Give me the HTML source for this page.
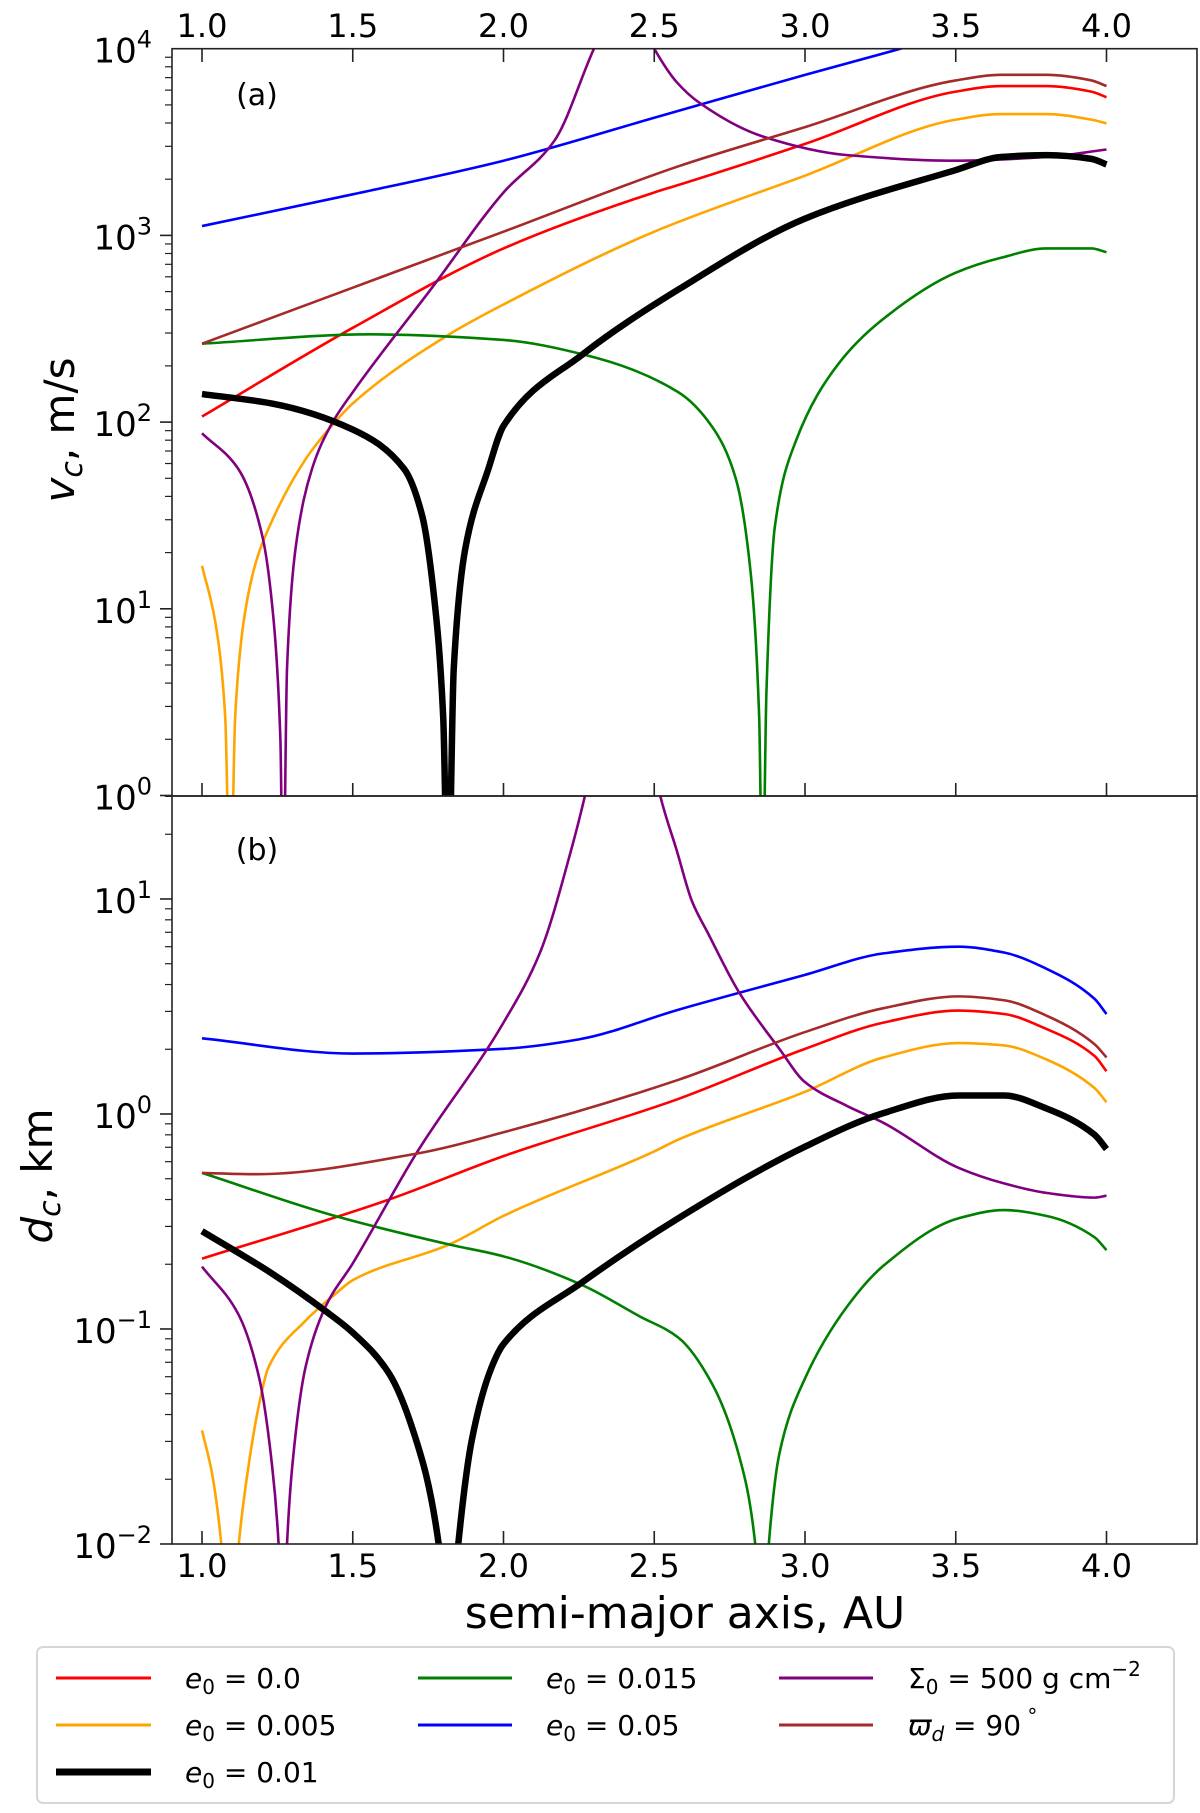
<!DOCTYPE html>
<html><head><meta charset="utf-8">
<style>
html,body{margin:0;padding:0;background:#fff;width:1200px;height:1813px;overflow:hidden;}
svg{display:block;font-family:"DejaVu Sans","Liberation Sans",sans-serif;}
</style></head>
<body>
<svg id="fig" width="1200" height="1813" viewBox="0 0 1200 1813" xmlns="http://www.w3.org/2000/svg" overflow="hidden">
<defs>
<clipPath id="clipTop"><rect x="172" y="48.7" width="1025" height="747"/></clipPath>
<clipPath id="clipBot"><rect x="172" y="796" width="1025" height="748"/></clipPath>
</defs>
<rect x="0" y="0" width="1200" height="1813" fill="#fff"/>
<g id="gTop"></g>
<g id="gBot"></g>
<g id="gAxes"></g>

<text x="257" y="105" font-size="30" text-anchor="middle">(a)</text>
<text x="257" y="860" font-size="30" text-anchor="middle">(b)</text>

<text x="685" y="1628" font-size="44" text-anchor="middle">semi-major axis, AU</text>
<text transform="translate(74,430) rotate(-90)" font-size="42" text-anchor="middle"><tspan font-style="italic">v</tspan><tspan font-style="italic" font-size="30" dy="8">c</tspan><tspan dy="-8">, m/s</tspan></text>
<text transform="translate(52,1176) rotate(-90)" font-size="42" text-anchor="middle"><tspan font-style="italic">d</tspan><tspan font-style="italic" font-size="30" dy="8">c</tspan><tspan dy="-8">, km</tspan></text>

<g>
<rect x="37" y="1647" width="1137" height="156" rx="6" fill="#fff" stroke="#d6d6d6" stroke-width="2"/>
<g><line x1="56" y1="1678" x2="151" y2="1678" stroke="#ff0000" stroke-width="3"/><text x="185" y="1688" font-size="28"><tspan font-style="italic">e</tspan><tspan font-size="20" dy="6">0</tspan><tspan dy="-6"> = 0.0</tspan></text></g>
<g><line x1="56" y1="1725" x2="151" y2="1725" stroke="#ffa500" stroke-width="3"/><text x="185" y="1735" font-size="28"><tspan font-style="italic">e</tspan><tspan font-size="20" dy="6">0</tspan><tspan dy="-6"> = 0.005</tspan></text></g>
<g><line x1="56" y1="1772" x2="151" y2="1772" stroke="#000" stroke-width="7"/><text x="185" y="1782" font-size="28"><tspan font-style="italic">e</tspan><tspan font-size="20" dy="6">0</tspan><tspan dy="-6"> = 0.01</tspan></text></g>
<g><line x1="418" y1="1678" x2="512" y2="1678" stroke="#008000" stroke-width="3"/><text x="546" y="1688" font-size="28"><tspan font-style="italic">e</tspan><tspan font-size="20" dy="6">0</tspan><tspan dy="-6"> = 0.015</tspan></text></g>
<g><line x1="418" y1="1725" x2="512" y2="1725" stroke="#0000ff" stroke-width="3"/><text x="546" y="1735" font-size="28"><tspan font-style="italic">e</tspan><tspan font-size="20" dy="6">0</tspan><tspan dy="-6"> = 0.05</tspan></text></g>
<g><line x1="779" y1="1678" x2="873" y2="1678" stroke="#800080" stroke-width="3"/><text x="908" y="1688" font-size="28">Σ<tspan font-size="20" dy="6">0</tspan><tspan dy="-6"> = 500 g cm</tspan><tspan font-size="20" dy="-12">−2</tspan></text></g>
<g><line x1="779" y1="1725" x2="873" y2="1725" stroke="#a52a2a" stroke-width="3"/><text x="908" y="1735" font-size="28"><tspan font-style="italic">ϖ</tspan><tspan font-style="italic" font-size="20" dy="6">d</tspan><tspan dy="-6"> = 90</tspan><tspan font-size="20" dy="-12"> °</tspan></text></g>
</g>
</svg>
<script>
// Panel (a): log10 v_c [m/s]
const vcRedA = [1,1.5,2,2.5,2.58,3,3.5,3.65,3.8,3.95,4];
const vcRedL = [2.03,2.505,2.93,3.23,3.27,3.49,3.77,3.80,3.80,3.77,3.74];
const vcOrangeA = [1,1.044,1.077,1.094,1.11,1.138,1.177,1.21,1.343,1.43,1.5,1.82,2,2.5,3,3.5,3.65,3.8,3.95,4];
const vcOrangeL = [1.23,0.93,0.42,-0.6,0.42,0.93,1.24,1.39,1.80,1.98,2.10,2.47,2.63,3.02,3.32,3.62,3.65,3.65,3.62,3.60];
const vcBlackA = [1,1.23,1.5,1.67,1.73,1.77,1.80,1.816,1.835,1.873,1.95,2.0,2.26,2.58,3,3.5,3.65,3.8,3.95,4];
const vcBlackL = [2.15,2.10,1.96,1.75,1.50,1.06,0.42,-0.6,0.68,1.32,1.75,1.98,2.36,2.71,3.09,3.35,3.42,3.43,3.41,3.38];
const vcGreenA = [1,1.56,2,2.27,2.58,2.69,2.77,2.82,2.848,2.859,2.872,2.90,2.97,3.11,3.25,3.5,3.65,3.8,3.95,4];
const vcGreenL = [2.42,2.47,2.44,2.36,2.16,1.98,1.70,1.19,0.42,-0.6,0.55,1.44,1.90,2.31,2.54,2.80,2.88,2.93,2.93,2.91];
const vcBlueA = [1,1.5,2,2.5,3,3.5,4];
const vcBlueL = [3.05,3.22,3.40,3.63,3.86,4.08,4.3];
const vcPurpleA = [1,1.12,1.2,1.238,1.26,1.269,1.282,1.31,1.365,1.43,1.5,1.763,2,2.17,2.30,2.36,2.44,2.50,2.575,2.65,2.86,3.14,3.5,3.8,4];
const vcPurpleL = [1.94,1.75,1.39,0.93,0.30,-0.6,0.68,1.32,1.75,1.99,2.16,2.72,3.23,3.51,4.0,4.2,4.2,4.0,3.82,3.71,3.53,3.43,3.40,3.42,3.46];
const vcBrownA = [1,1.5,2,2.58,3,3.5,3.65,3.8,3.95,4];
const vcBrownL = [2.42,2.72,3.02,3.37,3.58,3.83,3.86,3.86,3.83,3.80];
// Panel (b): log10 d_c [km]
const dcRedA = [1,1.61,2,2.58,3,3.26,3.51,3.66,3.8,3.96,4];
const dcRedL = [-0.673,-0.403,-0.196,0.07,0.303,0.425,0.481,0.465,0.396,0.27,0.199];
const dcOrangeA = [1,1.033,1.064,1.093,1.122,1.155,1.188,1.22,1.343,1.44,1.5,1.82,2,2.5,2.58,3,3.26,3.51,3.66,3.8,3.96,4];
const dcOrangeL = [-1.472,-1.67,-2,-2.6,-2,-1.63,-1.36,-1.18,-0.962,-0.84,-0.773,-0.607,-0.474,-0.174,-0.119,0.103,0.263,0.33,0.319,0.254,0.121,0.055];
const dcBlackA = [1,1.23,1.41,1.5,1.62,1.70,1.785,1.817,1.85,1.895,1.96,2.0,2.26,2.58,3,3.26,3.51,3.66,3.8,3.96,4];
const dcBlackL = [-0.545,-0.74,-0.917,-1.017,-1.206,-1.472,-2,-2.6,-2,-1.516,-1.18,-1.07,-0.784,-0.485,-0.152,0.004,0.086,0.086,0.026,-0.096,-0.163];
const dcGreenA = [1,1.44,1.82,2,2.26,2.45,2.58,2.69,2.78,2.835,2.858,2.88,2.915,3.0,3.14,3.26,3.51,3.66,3.8,3.96,4];
const dcGreenL = [-0.274,-0.474,-0.607,-0.662,-0.795,-0.94,-1.04,-1.25,-1.583,-2,-2.6,-2,-1.58,-1.23,-0.895,-0.706,-0.485,-0.447,-0.474,-0.573,-0.633];
const dcBlueA = [1,1.5,2,2.25,2.58,3,3.26,3.51,3.66,3.8,3.96,4];
const dcBlueL = [0.352,0.281,0.303,0.347,0.485,0.647,0.747,0.778,0.751,0.676,0.536,0.465];
const dcPurpleA = [1,1.12,1.19,1.232,1.254,1.268,1.282,1.30,1.343,1.41,1.5,1.71,2.0,2.12,2.23,2.27,2.35,2.45,2.52,2.575,2.625,2.68,2.78,2.915,3.0,3.14,3.26,3.51,3.66,3.8,3.96,4];
const dcPurpleL = [-0.71,-0.93,-1.23,-1.63,-2,-2.6,-2,-1.63,-1.18,-0.895,-0.695,-0.185,0.425,0.747,1.257,1.479,2.0,2.0,1.479,1.224,0.99,0.836,0.569,0.303,0.148,0.037,-0.041,-0.251,-0.323,-0.367,-0.389,-0.38];
const dcBrownA = [1,1.18,1.71,2.0,2.58,3,3.26,3.51,3.66,3.8,3.96,4];
const dcBrownL = [-0.274,-0.28,-0.185,-0.085,0.159,0.381,0.492,0.547,0.529,0.458,0.325,0.263];
// tick labels
const xTickVals = [1.0,1.5,2.0,2.5,3.0,3.5,4.0];
const yTopExps = [0,1,2,3,4];
const yBotExps = [-2,-1,0,1];

const NS = "http://www.w3.org/2000/svg";
function xs(a){ return 202 + (a-1)*301.5; }
function ysTop(L){ return 48.7 + (4-L)*186.7; }
function ysBot(L){ return 796 + (1.479-L)*215; }
function mk(tag, attrs, parent){
  const e = document.createElementNS(NS, tag);
  for (const k in attrs) e.setAttribute(k, attrs[k]);
  parent.appendChild(e); return e;
}
// monotone cubic (Fritsch-Carlson) path through points
function monoPath(X, Y){
  const n = X.length;
  const dx = [], s = [];
  for (let i=0;i<n-1;i++){ dx.push(X[i+1]-X[i]); s.push((Y[i+1]-Y[i])/(X[i+1]-X[i])); }
  const m = new Array(n);
  m[0] = s[0]; m[n-1] = s[n-2];
  for (let i=1;i<n-1;i++){
    if (s[i-1]*s[i] <= 0) m[i] = 0;
    else {
      const w1 = 2*dx[i]+dx[i-1], w2 = dx[i]+2*dx[i-1];
      m[i] = (w1+w2)/(w1/s[i-1]+w2/s[i]);
    }
  }
  let d = "M"+X[0].toFixed(2)+","+Y[0].toFixed(2);
  for (let i=0;i<n-1;i++){
    const h = dx[i]/3;
    d += "C"+(X[i]+h).toFixed(2)+","+(Y[i]+m[i]*h).toFixed(2)+" "+(X[i+1]-h).toFixed(2)+","+(Y[i+1]-m[i+1]*h).toFixed(2)+" "+X[i+1].toFixed(2)+","+Y[i+1].toFixed(2);
  }
  return d;
}
function drawSeries(parent, A, L, ys, color, w, name, clip){
  const X = A.map(xs), Y = L.map(ys);
  const p = mk("path", {d:monoPath(X,Y), fill:"none", stroke:color, "stroke-width":w, "stroke-linejoin":"round", "clip-path":"url(#"+clip+")"}, parent);
  
  
}
const gTop = document.getElementById("gTop");
const gBot = document.getElementById("gBot");
const gAx = document.getElementById("gAxes");
const thin = 2.6, thick = 6.5;
drawSeries(gTop, vcRedA, vcRedL, ysTop, "#ff0000", thin, "line-vc-e0-0", "clipTop");
drawSeries(gTop, vcOrangeA, vcOrangeL, ysTop, "#ffa500", thin, "line-vc-e0-0005", "clipTop");
drawSeries(gTop, vcGreenA, vcGreenL, ysTop, "#008000", thin, "line-vc-e0-0015", "clipTop");
drawSeries(gTop, vcBlueA, vcBlueL, ysTop, "#0000ff", thin, "line-vc-e0-005", "clipTop");
drawSeries(gTop, vcPurpleA, vcPurpleL, ysTop, "#800080", thin, "line-vc-sigma0", "clipTop");
drawSeries(gTop, vcBrownA, vcBrownL, ysTop, "#a52a2a", thin, "line-vc-varpi-d", "clipTop");
drawSeries(gTop, vcBlackA, vcBlackL, ysTop, "#000000", thick, "line-vc-e0-001", "clipTop");
drawSeries(gBot, dcRedA, dcRedL, ysBot, "#ff0000", thin, "line-dc-e0-0", "clipBot");
drawSeries(gBot, dcOrangeA, dcOrangeL, ysBot, "#ffa500", thin, "line-dc-e0-0005", "clipBot");
drawSeries(gBot, dcGreenA, dcGreenL, ysBot, "#008000", thin, "line-dc-e0-0015", "clipBot");
drawSeries(gBot, dcBlueA, dcBlueL, ysBot, "#0000ff", thin, "line-dc-e0-005", "clipBot");
drawSeries(gBot, dcPurpleA, dcPurpleL, ysBot, "#800080", thin, "line-dc-sigma0", "clipBot");
drawSeries(gBot, dcBrownA, dcBrownL, ysBot, "#a52a2a", thin, "line-dc-varpi-d", "clipBot");
drawSeries(gBot, dcBlackA, dcBlackL, ysBot, "#000000", thick, "line-dc-e0-001", "clipBot");

const fT = mk("rect", {x:172, y:48.7, width:1025, height:747.3, fill:"none", stroke:"#222", "stroke-width":1.6}, gAx);


const fB = mk("rect", {x:172, y:796, width:1025, height:748, fill:"none", stroke:"#222", "stroke-width":1.6}, gAx);



xTickVals.forEach(v=>{
  const x = xs(v);
  const t1 = mk("line", {x1:x, y1:48.7, x2:x, y2:62, stroke:"#222", "stroke-width":1.6}, gAx);
  
  
  const t2 = mk("line", {x1:x, y1:796, x2:x, y2:783, stroke:"#222", "stroke-width":1.6}, gAx);
  
  
  const t3 = mk("line", {x1:x, y1:1544, x2:x, y2:1531, stroke:"#222", "stroke-width":1.6}, gAx);
  
  
  const l1 = mk("text", {x:x, y:37, "font-size":32, "text-anchor":"middle"}, gAx);
  l1.textContent = v.toFixed(1);
  
  
  const l2 = mk("text", {x:x, y:1577, "font-size":32, "text-anchor":"middle"}, gAx);
  l2.textContent = v.toFixed(1);
  
  
});

function yAxis(exps, ys, lo, hi, yMin, yMax){
  for (let e=lo; e<=hi; e++){
    for (let m=1; m<=9; m++){
      const L = e + Math.log10(m);
      const y = ys(L);
      if (y < yMin-0.5 || y > yMax+0.5) continue;
      const len = (m===1)?12:7;
      const t = mk("line", {x1:172-len, y1:y, x2:172, y2:y, stroke:"#222", "stroke-width":(m===1)?1.6:1.2}, gAx);
      
      
    }
  }
  exps.forEach(e=>{
    const y = ys(e);
    const tx = mk("text", {x:152, y:y+14, "font-size":34, "text-anchor":"end"}, gAx);
    
    
    const s1 = document.createElementNS(NS, "tspan");
    s1.textContent = "10";
    tx.appendChild(s1);
    const s2 = document.createElementNS(NS, "tspan");
    s2.setAttribute("font-size", "24");
    s2.setAttribute("dy", "-15");
    s2.textContent = (e<0?"\u2212":"") + Math.abs(e);
    tx.appendChild(s2);
  });
}
yAxis(yTopExps, ysTop, 0, 3, 48.7, 796);
yAxis(yBotExps, ysBot, -2, 1, 796, 1544);
</script>
</body></html>
